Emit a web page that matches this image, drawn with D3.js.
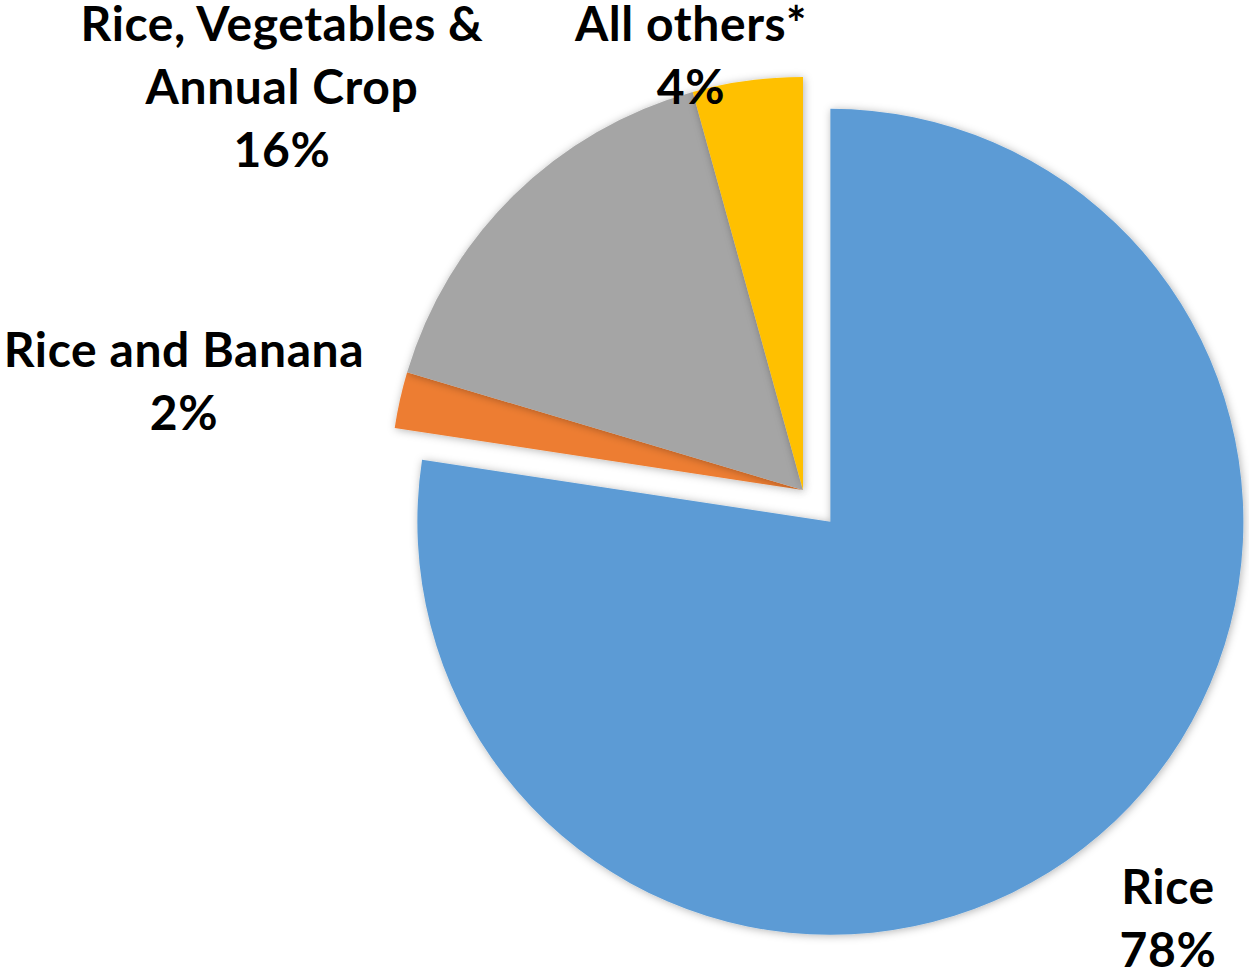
<!DOCTYPE html>
<html>
<head>
<meta charset="utf-8">
<script src="https://cdn.jsdelivr.net/npm/d3@7"></script>
<style>
  body { margin: 0; background: #fff; }
  text { font-family: Lato, "Open Sans", sans-serif; font-weight: bold; fill: #000; }
</style>
</head>
<body>
<svg id="fig" width="1249" height="971"></svg>
<script>
// data
var categories = ["Rice", "Rice and Banana", "Rice, Vegetables & Annual Crop", "All others*"];
var shares = [77.4, 2.2, 16.1, 4.3];
var pctLabels = ["78%", "2%", "16%", "4%"];
var labelLines = [["Rice"], ["Rice and Banana"], ["Rice, Vegetables &", "Annual Crop"], ["All others*"]];

// styling / layout
var colors = ["#5B9BD5", "#ED7D31", "#A5A5A5", "#FFC000"];
var explode = [42, 0, 0, 0];
var labelAt = [[1168, 904], [184, 367], [282, 41], [691, 41]];
var cx = 803, cy = 490, r = 413;
var lineH = 63;

var svg = d3.select("#fig");

var defs = svg.append("defs");
defs.append("filter")
    .attr("id", "shadow")
    .attr("x", "-10%").attr("y", "-10%")
    .attr("width", "120%").attr("height", "120%")
  .append("feDropShadow")
    .attr("dx", 1).attr("dy", 1)
    .attr("stdDeviation", 4)
    .attr("flood-color", "#000")
    .attr("flood-opacity", 0.3);

var pie = d3.pie().sort(null).value(d => d);
var arcs = pie(shares);
var arc = d3.arc().innerRadius(0).outerRadius(r);

var g = svg.append("g").attr("transform", "translate(" + cx + "," + cy + ")");

g.selectAll("path").data(arcs)
  .enter()
  .append("path")
  .attr("d", arc)
  .attr("fill", (d, i) => colors[i])
  .attr("filter", "url(#shadow)")
  .attr("transform", (d, i) => {
      var a = (d.startAngle + d.endAngle) / 2;
      return "translate(" + (Math.sin(a) * explode[i]) + "," + (-Math.cos(a) * explode[i]) + ")";
  });

var labels = svg.append("g")
  .selectAll("text").data(arcs)
  .enter()
  .append("text")
  .attr("text-anchor", "middle")
  .attr("font-size", "48px")
  .attr("letter-spacing", "0.6px");

labels.each(function(d, i) {
    var t = d3.select(this);
    var lines = labelLines[i].concat([pctLabels[i]]);
    lines.forEach((s, k) => {
        t.append("tspan")
         .attr("x", labelAt[i][0])
         .attr("y", labelAt[i][1] + k * lineH)
         .text(s);
    });
});
</script>
</body>
</html>
